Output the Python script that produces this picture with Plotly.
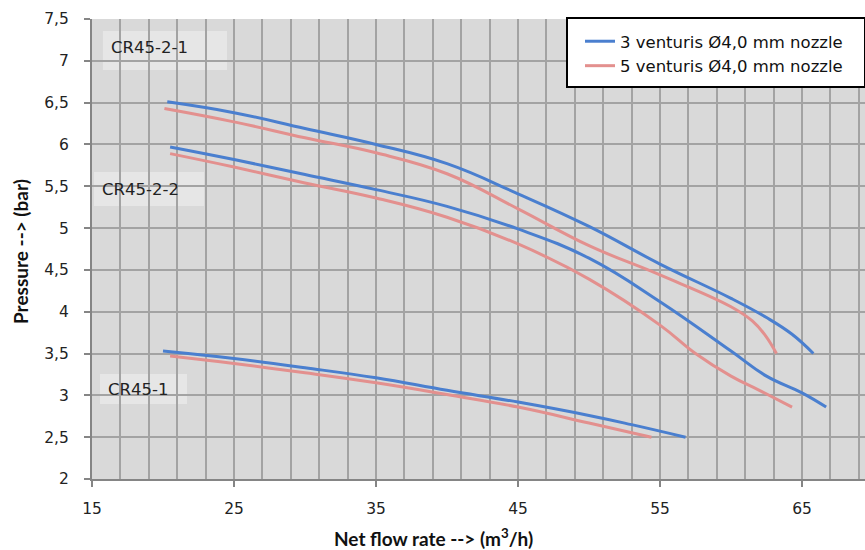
import plotly.graph_objects as go

# ---- data ----
x_b21 = [20.3, 25.0, 30.0, 35.0, 40.0, 45.0, 50.0, 55.0, 60.0, 62.5, 64.3, 65.8]
y_b21 = [6.51, 6.38, 6.19, 6.00, 5.77, 5.41, 5.02, 4.57, 4.16, 3.93, 3.73, 3.50]
x_r21 = [20.1, 25.0, 30.0, 35.0, 40.0, 45.0, 50.0, 55.0, 60.0, 61.5, 62.4, 63.2]
y_r21 = [6.43, 6.27, 6.08, 5.90, 5.65, 5.23, 4.79, 4.44, 4.06, 3.89, 3.72, 3.50]
x_b22 = [20.5, 25.0, 30.0, 35.0, 40.0, 45.0, 50.0, 55.0, 60.0, 62.5, 65.0, 66.7]
y_b22 = [5.97, 5.82, 5.64, 5.46, 5.26, 4.99, 4.64, 4.12, 3.53, 3.23, 3.03, 2.86]
x_r22 = [20.5, 25.0, 30.0, 35.0, 40.0, 45.0, 50.0, 55.0, 57.5, 60.0, 62.0, 64.3]
y_r22 = [5.89, 5.73, 5.54, 5.36, 5.13, 4.81, 4.39, 3.84, 3.50, 3.23, 3.06, 2.86]
x_b1 = [20.0, 25.0, 30.0, 35.0, 40.0, 45.0, 50.0, 53.0, 56.8]
y_b1 = [3.53, 3.44, 3.33, 3.21, 3.06, 2.92, 2.76, 2.65, 2.50]
x_r1 = [20.5, 25.0, 30.0, 35.0, 40.0, 45.0, 50.0, 54.4]
y_r1 = [3.47, 3.38, 3.27, 3.15, 3.01, 2.86, 2.67, 2.50]

series_names = ["3 venturis Ø4,0 mm nozzle", "5 venturis Ø4,0 mm nozzle"]
curve_labels = ["CR45-2-1", "CR45-2-2", "CR45-1"]

x_ticks = [15, 25, 35, 45, 55, 65]
y_ticks = [2, 2.5, 3, 3.5, 4, 4.5, 5, 5.5, 6, 6.5, 7, 7.5]
y_ticktext = [("%g" % v).replace(".", ",") for v in y_ticks]

BLUE = "#4a7fcf"
RED = "#e3908e"

fig = go.Figure()
groups = [
    (x_b21, y_b21, BLUE, series_names[0], True),
    (x_r21, y_r21, RED, series_names[1], True),
    (x_b22, y_b22, BLUE, series_names[0], False),
    (x_r22, y_r22, RED, series_names[1], False),
    (x_b1, y_b1, BLUE, series_names[0], False),
    (x_r1, y_r1, RED, series_names[1], False),
]
for xs, ys, col, name, show in groups:
    fig.add_trace(go.Scatter(
        x=xs, y=ys, mode="lines", name=name, showlegend=show,
        legendgroup=name,
        line=dict(color=col, width=3, shape="spline", smoothing=1.2),
        hoverinfo="skip",
    ))

# label boxes (data coords)
boxes = [
    (curve_labels[0], 15.77, 24.51, 6.89, 7.357, 7.165),
    (curve_labels[1], 15.14, 22.89, 5.264, 5.67, 5.467),
    (curve_labels[2], 15.56, 21.69, 2.897, 3.256, 3.076),
]
shapes = []
annotations = []
for text, x0, x1, y0, y1, yc in boxes:
    shapes.append(dict(type="rect", xref="x", yref="y", x0=x0, x1=x1, y0=y0, y1=y1,
                       fillcolor="#e6e6e6", line=dict(width=0), layer="below"))
    annotations.append(dict(x=x0 + 0.4, y=yc, xref="x", yref="y", text=text,
                            showarrow=False, xanchor="left", yanchor="middle",
                            font=dict(family="DejaVu Sans", size=16.5, color="#222222")))

# legend frame
shapes.append(dict(type="rect", xref="paper", yref="paper",
                   x0=(567 - 92) / 773, x1=1.0, y0=(479 - 87) / 460, y1=(479 - 18) / 460,
                   fillcolor="white", line=dict(color="black", width=2), layer="above"))

annotations.append(dict(x=(433 - 92) / 773, y=-(537 - 479) / 460, xref="paper", yref="paper",
                        text="<b>Net flow rate --> (m<sup>3</sup>/h)</b>", showarrow=False,
                        xanchor="center", yanchor="middle",
                        font=dict(family="Lato", size=19, color="#111111")))
annotations.append(dict(x=-(92 - 20) / 773, y=(479 - 252) / 460, xref="paper", yref="paper",
                        text="<b>Pressure --> (bar)</b>", showarrow=False, textangle=-90,
                        xanchor="center", yanchor="middle",
                        font=dict(family="Lato", size=19, color="#111111")))

fig.update_layout(
    width=865, height=550,
    margin=dict(l=92, r=0, t=19, b=71),
    paper_bgcolor="white",
    plot_bgcolor="#d9d9d9",
    shapes=shapes,
    annotations=annotations,
    showlegend=True,
    legend=dict(x=(580 - 92) / 773, y=(479 - 24) / 460, xanchor="left", yanchor="top",
                bgcolor="rgba(0,0,0,0)", borderwidth=0,
                font=dict(family="DejaVu Sans", size=16.5, color="#111111"),
                tracegroupgap=0, itemwidth=30),
    xaxis=dict(range=[15, 15 + 773 / 14.2], tickvals=x_ticks, ticktext=[str(v) for v in x_ticks],
               showgrid=True, gridcolor="#a3a3a3", gridwidth=1.5,
               minor=dict(dtick=2, tick0=15, showgrid=True, gridcolor="#a3a3a3", gridwidth=1.5),
               showline=True, linecolor="#858585", linewidth=2,
               ticks="outside", ticklen=6, tickcolor="#858585", tickwidth=1.5,
               ticklabelstandoff=8,
               tickfont=dict(family="DejaVu Sans", size=15.5, color="#222222"),
               zeroline=False),
    yaxis=dict(range=[2, 7.5], tickvals=y_ticks, ticktext=y_ticktext,
               showgrid=True, gridcolor="#a3a3a3", gridwidth=1.5,
               showline=True, linecolor="#858585", linewidth=2,
               ticks="outside", ticklen=6, tickcolor="#858585", tickwidth=1.5,
               ticklabelstandoff=12,
               tickfont=dict(family="DejaVu Sans", size=15.5, color="#222222"),
               zeroline=False),
)

fig.write_html("out.html")
